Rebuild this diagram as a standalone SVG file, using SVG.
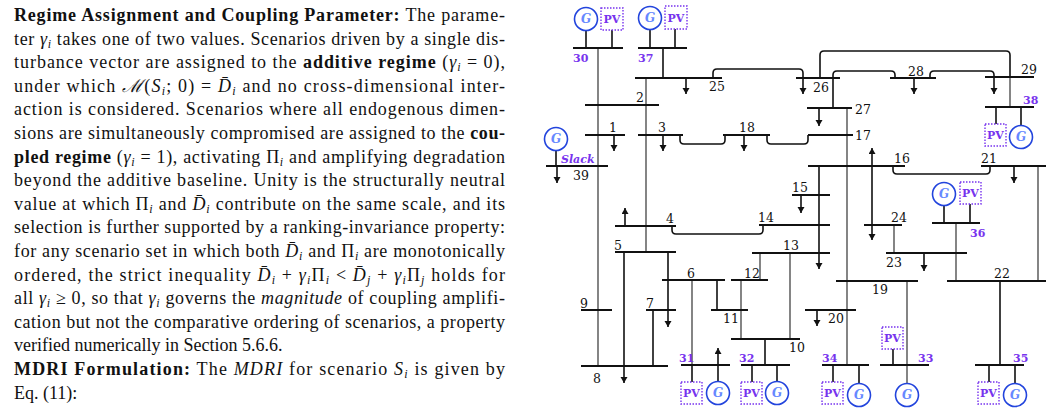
<svg xmlns="http://www.w3.org/2000/svg" width="1053" height="418" viewBox="0 0 1053 418">
<style>
.t{font-family:"Liberation Serif",serif;font-size:18px;fill:#111}
.b{font-weight:bold}.i{font-style:italic}
.s{font-size:12px}
.bus{stroke:#111;stroke-width:2;fill:none}
.ln{stroke:#666;stroke-width:1.6;fill:none}
.lk{stroke:#111;stroke-width:1.6;fill:none}
.ld{stroke:#111;stroke-width:1.6;fill:none;marker-end:url(#ar)}
.lu{stroke:#111;stroke-width:1.6;fill:none;marker-start:url(#ar)}
.lab{font-family:"DejaVu Serif","Liberation Serif",serif;font-size:12.5px;fill:#111}
.pl{font-family:"DejaVu Serif","Liberation Serif",serif;font-size:11px;fill:#7733ee;font-weight:bold}
.g{fill:#fff;stroke:#2244dd;stroke-width:1.6}
.gt{font-family:"DejaVu Serif",serif;font-style:italic;font-weight:bold;font-size:12px;fill:#6688ff;text-anchor:middle}
.pv{fill:#fff;stroke:#7733ee;stroke-width:1.4;stroke-dasharray:1.5 1.5}
.pt{font-family:"DejaVu Serif",serif;font-weight:bold;font-size:11px;fill:#7733ee;text-anchor:middle}
</style>
<defs>
<marker id="ar" markerWidth="8" markerHeight="8" refX="6" refY="3.5" orient="auto-start-reverse" markerUnits="userSpaceOnUse" viewBox="0 0 8 8"><path d="M0,0 L6,3.5 L0,7 z" fill="#111"/></marker>
</defs>
<g id="text">
<text class="t" x="14" y="21" textLength="491" lengthAdjust="spacing"><tspan class="b">Regime Assignment and Coupling Parameter:</tspan> The parame-</text>
<text class="t" x="14" y="44.6" textLength="491" lengthAdjust="spacing">ter <tspan class="i">γ</tspan><tspan class="i s" dy="3">i</tspan><tspan dy="-3"> takes one of two values. Scenarios driven by a single dis-</tspan></text>
<text class="t" x="14" y="68.2" textLength="491" lengthAdjust="spacing">turbance vector are assigned to the <tspan class="b">additive regime</tspan> (<tspan class="i">γ</tspan><tspan class="i s" dy="3">i</tspan><tspan dy="-3"> = 0),</tspan></text>
<text class="t" x="14" y="91.8" textLength="491" lengthAdjust="spacing">under which <tspan class="i">ℳ</tspan>(<tspan class="i">S</tspan><tspan class="i s" dy="3">i</tspan><tspan dy="-3">; 0) = </tspan><tspan class="i">D̄</tspan><tspan class="i s" dy="3">i</tspan><tspan dy="-3"> and no cross-dimensional inter-</tspan></text>
<text class="t" x="14" y="115.4" textLength="491" lengthAdjust="spacing">action is considered. Scenarios where all endogenous dimen-</text>
<text class="t" x="14" y="139" textLength="491" lengthAdjust="spacing">sions are simultaneously compromised are assigned to the <tspan class="b">cou-</tspan></text>
<text class="t" x="14" y="162.6" textLength="491" lengthAdjust="spacing"><tspan class="b">pled regime</tspan> (<tspan class="i">γ</tspan><tspan class="i s" dy="3">i</tspan><tspan dy="-3"> = 1), activating Π</tspan><tspan class="i s" dy="3">i</tspan><tspan dy="-3"> and amplifying degradation</tspan></text>
<text class="t" x="14" y="186.2" textLength="491" lengthAdjust="spacing">beyond the additive baseline. Unity is the structurally neutral</text>
<text class="t" x="14" y="209.8" textLength="491" lengthAdjust="spacing">value at which Π<tspan class="i s" dy="3">i</tspan><tspan dy="-3"> and </tspan><tspan class="i">D̄</tspan><tspan class="i s" dy="3">i</tspan><tspan dy="-3"> contribute on the same scale, and its</tspan></text>
<text class="t" x="14" y="233.4" textLength="491" lengthAdjust="spacing">selection is further supported by a ranking-invariance property:</text>
<text class="t" x="14" y="257" textLength="491" lengthAdjust="spacing">for any scenario set in which both <tspan class="i">D̄</tspan><tspan class="i s" dy="3">i</tspan><tspan dy="-3"> and Π</tspan><tspan class="i s" dy="3">i</tspan><tspan dy="-3"> are monotonically</tspan></text>
<text class="t" x="14" y="280.6" textLength="491" lengthAdjust="spacing">ordered, the strict inequality <tspan class="i">D̄</tspan><tspan class="i s" dy="3">i</tspan><tspan dy="-3"> + </tspan><tspan class="i">γ</tspan><tspan class="i s" dy="3">i</tspan><tspan dy="-3">Π</tspan><tspan class="i s" dy="3">i</tspan><tspan dy="-3"> &lt; </tspan><tspan class="i">D̄</tspan><tspan class="i s" dy="3">j</tspan><tspan dy="-3"> + </tspan><tspan class="i">γ</tspan><tspan class="i s" dy="3">i</tspan><tspan dy="-3">Π</tspan><tspan class="i s" dy="3">j</tspan><tspan dy="-3"> holds for</tspan></text>
<text class="t" x="14" y="304.2" textLength="491" lengthAdjust="spacing">all <tspan class="i">γ</tspan><tspan class="i s" dy="3">i</tspan><tspan dy="-3"> ≥ 0, so that </tspan><tspan class="i">γ</tspan><tspan class="i s" dy="3">i</tspan><tspan dy="-3"> governs the </tspan><tspan class="i">magnitude</tspan> of coupling amplifi-</text>
<text class="t" x="14" y="327.8" textLength="491" lengthAdjust="spacing">cation but not the comparative ordering of scenarios, a property</text>
<text class="t" x="14" y="351.4">verified numerically in Section 5.6.6.</text>
<text class="t" x="14" y="375" textLength="491" lengthAdjust="spacing"><tspan class="b">MDRI Formulation:</tspan> The <tspan class="i">MDRI</tspan> for scenario <tspan class="i">S</tspan><tspan class="i s" dy="3">i</tspan><tspan dy="-3"> is given by</tspan></text>
<text class="t" x="14" y="398.6">Eq. (11):</text>
</g>
<g id="connectors">
<path class="ln" d="M598 48V366"/>
<path class="lk" d="M663 48V78"/>
<path class="ln" d="M646 78V252"/>
<path class="lk" d="M713 78V73Q713 69 717 69H799Q803 69 803 73V78"/>
<path class="lk" d="M820 78V55Q820 51 824 51H1006Q1010 51 1010 55V77"/>
<path class="ln" d="M1010 77V107"/>
<path class="lk" d="M833 108V75Q833 71 837 71H891Q895 71 895 75V78"/>
<path class="lk" d="M930 78V75Q930 71 934 71H990Q994 71 994 75V78"/>
<path class="lk" d="M680 135V140Q680 144 684 144H721Q725 144 725 140V135"/>
<path class="lk" d="M767 135V140Q767 144 771 144H804Q808 144 808 140V135"/>
<path class="ln" d="M847 108V365"/>
<path class="lk" d="M893 166V170Q893 174 897 174H986Q990 174 990 170V166"/>
<path class="ln" d="M1038 166V281"/>
<path class="lk" d="M763 225V230Q763 234 759 234H676Q672 234 672 230V225"/>
<path class="ln" d="M760 253V280"/>
<path class="ln" d="M790 253V339"/>
<path class="lk" d="M624 252V366"/>
<path class="ln" d="M692 280V365"/>
<path class="lk" d="M717 280V310"/>
<path class="lk" d="M653 310V366"/>
<path class="ln" d="M741 280V339"/>
<path class="lk" d="M765 339V365"/>
<path class="ln" d="M907 281V383"/>
<path class="ln" d="M894 225V253"/>
<path class="ln" d="M956 223V281"/>
<path class="lk" d="M1000 281V365"/>
<path class="ld" d="M686 78V94"/>
<path class="ld" d="M803 78V94"/>
<path class="ld" d="M614 135V151"/>
<path class="ld" d="M663 135V151"/>
<path class="ld" d="M744 135V151"/>
<path class="ld" d="M557 166V183"/>
<path class="ld" d="M819 108V126"/>
<path class="ld" d="M914 78V94"/>
<path class="ld" d="M994 78V94"/>
<path class="ld" d="M1014 166V183"/>
<path class="ld" d="M801 195V213"/>
<path class="ld" d="M819 166V269"/>
<path class="ld" d="M924 253V271"/>
<path class="ld" d="M817 310V326"/>
<path class="ld" d="M668 252V327"/>
<path class="ld" d="M624 366V383"/>
<path class="lu" d="M872 148V240" marker-end="url(#ar)"/>
<path class="lu" d="M625 208V226"/>
<path class="lu" d="M718 348V382"/>
<path class="lk" d="M586 31V48M612 30V48M650 30V48M675 29V48M556 151V166M996 107V124M1021 107V125M944 206V223M970 204V223M692 365V382M752 365V382M777 365V381M833 365V382M859 365V383M893 349V365M989 365V382M1015 365V383"/>
</g>
<g id="buses">
<path class="bus" d="M573 48H623M638 48H687M635 78H722M796 78H840M890 78H936M985 77H1034M985 107H1034M585 105H659M585 135H625M638 135H683M723 135H770M808 135H853M807 108H852M546 166H608M808 166H905M981 166H1046M792 195H830M759 225H830M752 253H830M615 226H676M615 252H676M662 280H725M646 310H676M581 310H612M581 366H668M711 310H748M731 280H768M731 339H800M681 365H730M741 365H790M822 365H869M805 310H856M836 281H918M880 365H929M864 225H902M886 253H967M932 223H980M947 281H1046M975 365H1024"/>
</g>
<g id="labels">
<text class="lab" x="709" y="91">25</text><text class="lab" x="813" y="92">26</text>
<text class="lab" x="908" y="76">28</text><text class="lab" x="1021" y="74">29</text>
<text class="lab" x="636" y="102">2</text><text class="lab" x="609" y="132">1</text>
<text class="lab" x="658" y="132">3</text><text class="lab" x="739" y="132">18</text>
<text class="lab" x="855" y="140">17</text><text class="lab" x="855" y="114">27</text>
<text class="lab" x="573" y="180">39</text><text class="lab" x="894" y="163">16</text>
<text class="lab" x="981" y="163">21</text><text class="lab" x="792" y="192">15</text>
<text class="lab" x="758" y="222">14</text><text class="lab" x="783" y="250">13</text>
<text class="lab" x="666" y="223">4</text><text class="lab" x="614" y="250">5</text>
<text class="lab" x="687" y="278">6</text><text class="lab" x="646" y="308">7</text>
<text class="lab" x="580" y="308">9</text><text class="lab" x="593" y="383">8</text>
<text class="lab" x="723" y="323">11</text><text class="lab" x="744" y="278">12</text>
<text class="lab" x="789" y="352">10</text><text class="lab" x="828" y="323">20</text>
<text class="lab" x="872" y="294">19</text><text class="lab" x="891" y="222">24</text>
<text class="lab" x="886" y="267">23</text><text class="lab" x="994" y="278">22</text>
<text class="pl" x="573" y="62">30</text><text class="pl" x="638" y="62">37</text>
<text class="pl" x="1023" y="104">38</text><text class="pl" x="970" y="237">36</text>
<text class="pl" x="679" y="362">31</text><text class="pl" x="739" y="362">32</text>
<text class="pl" x="822" y="362">34</text><text class="pl" x="918" y="362">33</text>
<text class="pl" x="1013" y="362">35</text>
<text class="pl" x="561" y="163" font-style="italic" font-size="12">Slack</text>
</g>
<g id="gens">
<circle class="g" cx="586" cy="19" r="11.5"/><text class="gt" x="586" y="23">G</text>
<circle class="g" cx="650" cy="18" r="11.5"/><text class="gt" x="650" y="22">G</text>
<circle class="g" cx="556" cy="139" r="11.5"/><text class="gt" x="556" y="143">G</text>
<circle class="g" cx="1021" cy="137" r="11.5"/><text class="gt" x="1021" y="141">G</text>
<circle class="g" cx="944" cy="194" r="11.5"/><text class="gt" x="944" y="198">G</text>
<circle class="g" cx="718" cy="393" r="11.5"/><text class="gt" x="718" y="397">G</text>
<circle class="g" cx="777" cy="393" r="11.5"/><text class="gt" x="777" y="397">G</text>
<circle class="g" cx="859" cy="395" r="11.5"/><text class="gt" x="859" y="399">G</text>
<circle class="g" cx="907" cy="395" r="11.5"/><text class="gt" x="907" y="399">G</text>
<circle class="g" cx="1015" cy="395" r="11.5"/><text class="gt" x="1015" y="399">G</text>
</g>
<g id="pvs">
<rect class="pv" x="601" y="8" width="22" height="22"/><text class="pt" x="612" y="23">PV</text>
<rect class="pv" x="665" y="6" width="22" height="23"/><text class="pt" x="676" y="22">PV</text>
<rect class="pv" x="985" y="124" width="21" height="22"/><text class="pt" x="995.5" y="139">PV</text>
<rect class="pv" x="960" y="182" width="21" height="22"/><text class="pt" x="970.5" y="197">PV</text>
<rect class="pv" x="681" y="382" width="21" height="22"/><text class="pt" x="691.5" y="397">PV</text>
<rect class="pv" x="741" y="382" width="21" height="22"/><text class="pt" x="751.5" y="397">PV</text>
<rect class="pv" x="822" y="382" width="21" height="22"/><text class="pt" x="832.5" y="397">PV</text>
<rect class="pv" x="882" y="327" width="21" height="22"/><text class="pt" x="892.5" y="342">PV</text>
<rect class="pv" x="978" y="382" width="21" height="22"/><text class="pt" x="988.5" y="397">PV</text>
</g>
</svg>
